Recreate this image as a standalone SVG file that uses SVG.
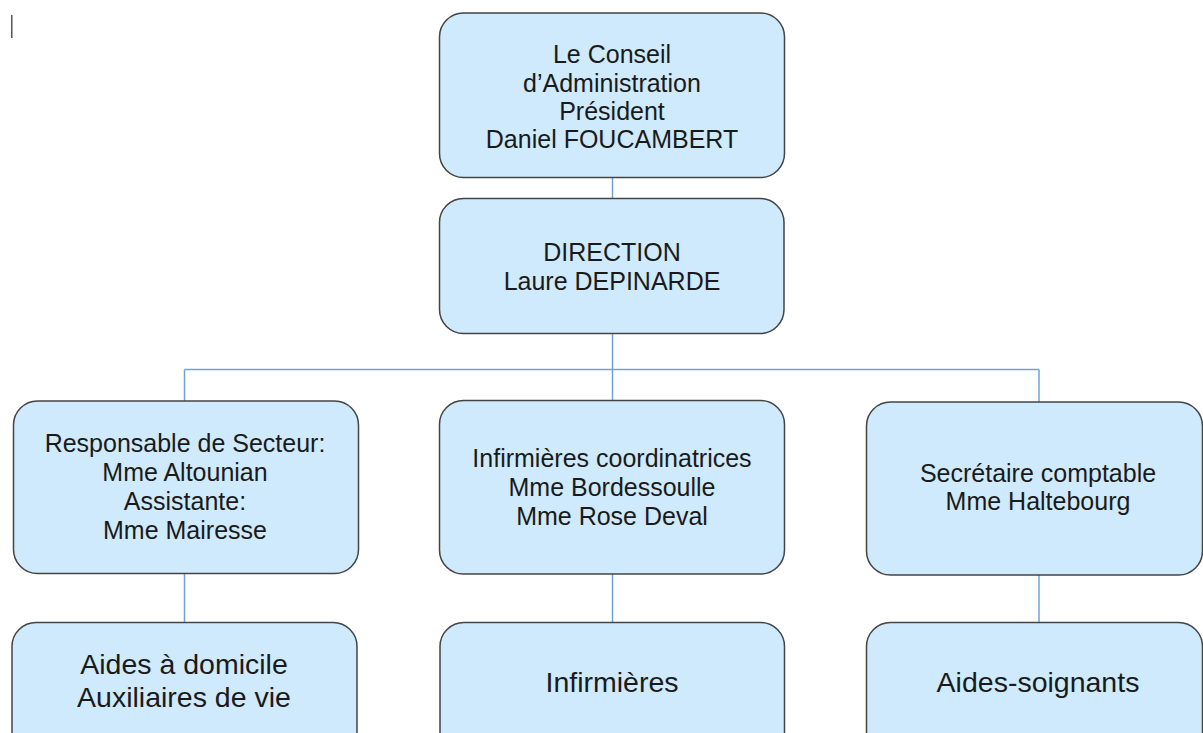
<svg xmlns="http://www.w3.org/2000/svg" width="1203" height="733" viewBox="0 0 1203 733">
<style>
.box{fill:#cfeafc;stroke:#444;stroke-width:1.5}
.t{font-family:"Liberation Sans",Arial,sans-serif;font-size:25px;fill:#1a1a1a;text-anchor:middle}
.tb{font-family:"Liberation Sans",Arial,sans-serif;font-size:28.5px;fill:#1a1a1a;text-anchor:middle}
.c{stroke:#6fa3d8;stroke-width:1.5;fill:none}
</style>
<rect x="0" y="0" width="1203" height="733" fill="#fff"/>
<rect x="11" y="15" width="1.5" height="23" fill="#555"/>
<g id="connectors">
<line class="c" x1="612.5" y1="178" x2="612.5" y2="198"/>
<line class="c" x1="612.5" y1="333" x2="612.5" y2="400"/>
<line class="c" x1="184.5" y1="369.5" x2="1039" y2="369.5"/>
<line class="c" x1="184.5" y1="369.5" x2="184.5" y2="401"/>
<line class="c" x1="1039" y1="369.5" x2="1039" y2="402"/>
<line class="c" x1="184.5" y1="573" x2="184.5" y2="622"/>
<line class="c" x1="612.5" y1="574" x2="612.5" y2="622"/>
<line class="c" x1="1039" y1="575" x2="1039" y2="622"/>
</g>
<g id="conseil">
<rect class="box" x="439.5" y="13" width="345" height="164.5" rx="24"/>
<text class="t" x="612" y="63">Le Conseil</text>
<text class="t" x="612" y="91.5">d’Administration</text>
<text class="t" x="612" y="120">Président</text>
<text class="t" x="612" y="148.3">Daniel FOUCAMBERT</text>
</g>
<g id="direction">
<rect class="box" x="439.5" y="198.5" width="344.5" height="135" rx="24"/>
<text class="t" x="612" y="260.7">DIRECTION</text>
<text class="t" x="612" y="290">Laure DEPINARDE</text>
</g>
<g id="responsable">
<rect class="box" x="13.5" y="401" width="345" height="172.5" rx="24"/>
<text class="t" x="185" y="451.5">Responsable de Secteur:</text>
<text class="t" x="185" y="480.5">Mme Altounian</text>
<text class="t" x="185" y="510">Assistante:</text>
<text class="t" x="185" y="539">Mme Mairesse</text>
</g>
<g id="infirmieres-coord">
<rect class="box" x="439.5" y="400.5" width="345" height="173.5" rx="24"/>
<text class="t" x="612" y="467">Infirmières coordinatrices</text>
<text class="t" x="612" y="496">Mme Bordessoulle</text>
<text class="t" x="612" y="525">Mme Rose Deval</text>
</g>
<g id="secretaire">
<rect class="box" x="866.5" y="402" width="336" height="173" rx="24"/>
<text class="t" x="1038" y="481.7">Secrétaire comptable</text>
<text class="t" x="1038" y="510">Mme Haltebourg</text>
</g>
<g id="aides-domicile">
<rect class="box" x="12" y="622.5" width="345" height="150" rx="24"/>
<text class="tb" x="184" y="674">Aides à domicile</text>
<text class="tb" x="184" y="707">Auxiliaires de vie</text>
</g>
<g id="infirmieres">
<rect class="box" x="440" y="622.5" width="344.5" height="150" rx="24"/>
<text class="tb" x="612" y="691.5">Infirmières</text>
</g>
<g id="aides-soignants">
<rect class="box" x="866.5" y="622.5" width="336" height="150" rx="24"/>
<text class="tb" x="1038" y="691.7">Aides-soignants</text>
</g>
</svg>
